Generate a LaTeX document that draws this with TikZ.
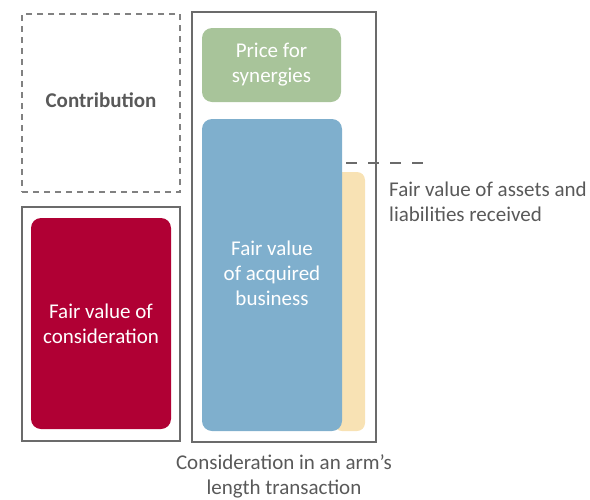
\documentclass[tikz,border=0pt]{standalone}
\usepackage{fontspec}
\setmainfont{Carlito}
\usepackage{tikz}

\definecolor{framegray}{HTML}{6B6B6B}
\definecolor{textgray}{HTML}{595959}
\definecolor{consred}{HTML}{B00034}
\definecolor{bizblue}{HTML}{7FAFCD}
\definecolor{synergreen}{HTML}{A8C49A}
\definecolor{assetbeige}{HTML}{F8E2B4}

\tikzset{
    frame/.style={draw=framegray, line width=1.6pt, inner sep=0pt},
    dashframe/.style={draw=framegray!85, line width=1.4pt, dash pattern=on 6pt off 5pt, inner sep=0pt},
    block/.style={rounded corners=10pt, inner sep=0pt, text=white, align=center},
    lbl/.style={text=textgray, align=center, inner sep=0pt},
}

\begin{document}
\begin{tikzpicture}[x=1pt, y=-1pt, font=\fontsize{21}{25}\selectfont]
        \useasboundingbox (0, 0) rectangle (590, 499);

        % left column
        \node[dashframe, minimum width=158pt, minimum height=178pt] (contrib) at (101, 103) {};
        \node[lbl, font=\fontsize{21}{25}\selectfont\bfseries] (contribtxt) at (101, 100) {Contribution};

        \node[frame, minimum width=158pt, minimum height=234pt] (leftbox) at (101, 324) {};
        \node[block, fill=consred, minimum width=140pt, minimum height=211pt] (cons) at (101, 323.5) {Fair value of\\consideration};

        % right column
        \node[frame, minimum width=184pt, minimum height=430pt] (rightbox) at (284, 227) {};
        \node[block, fill=synergreen, minimum width=139pt, minimum height=74pt] (synergy) at (271.5, 65) {Price for\\synergies};
        \node[block, fill=assetbeige, rounded corners=8pt, minimum width=31pt, minimum height=259pt] (assets) at (349.5, 301.5) {};
        \node[block, fill=bizblue, minimum width=140pt, minimum height=312pt] (business) at (272, 275) {};
        \node[block] (biztxt) at (272, 273) {Fair value\\of acquired\\business};

        % leader to the assets label
        \coordinate (leadend) at (424, 163);
        \draw[framegray, line width=1.4pt, dash pattern=on 11pt off 11pt] ([xshift=4pt]business.east |- leadend) -- (leadend);
        \node[lbl, anchor=west, align=left] (assetstxt) at (389, 201.5) {Fair value of assets and\\liabilities received};

        % caption
        \node[lbl] (caption) at (284, 476.5) {Consideration in an arm's\\length transaction};
\end{tikzpicture}
\end{document}
